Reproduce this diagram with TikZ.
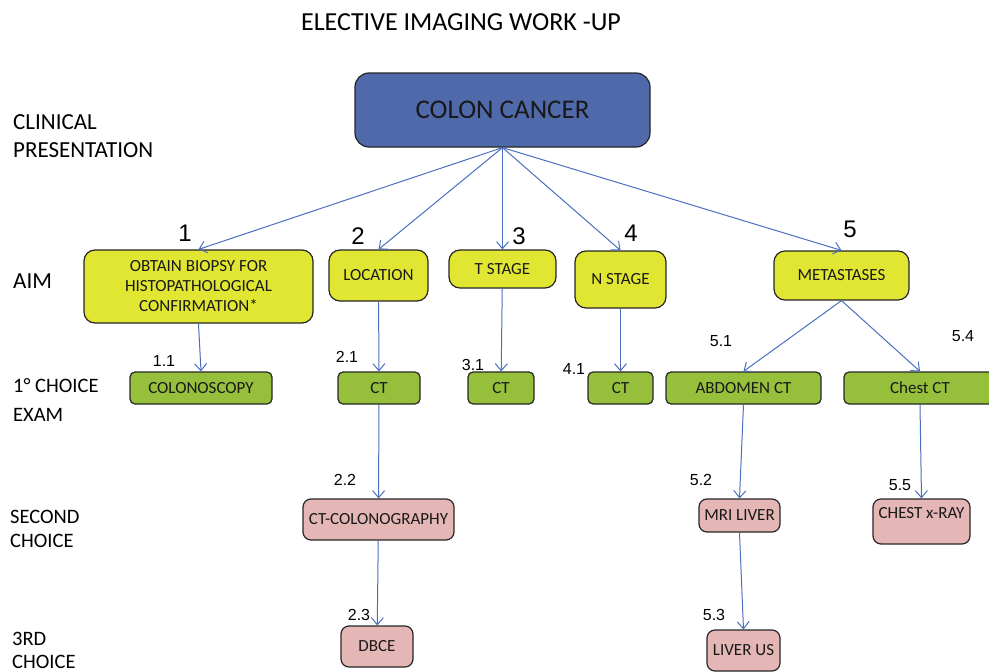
\documentclass[tikz,border=0pt]{standalone}
\usepackage{fontspec}
\setmainfont{Carlito}
\newfontfamily\arialfont{Liberation Sans}
\usetikzlibrary{arrows.meta, positioning}

\definecolor{cancerblue}{HTML}{5069AA}
\definecolor{aimyellow}{HTML}{E1E633}
\definecolor{examgreen}{HTML}{96C03C}
\definecolor{altpink}{HTML}{E4B7B6}
\definecolor{linkblue}{HTML}{4A6FBF}

\begin{document}
\begin{tikzpicture}[
    x=1pt, y=-1pt,
    box/.style={draw=black!85, line width=1.2pt, inner sep=2pt, align=center,
      text=black!90, font=\fontsize{17}{20}\selectfont},
    topbox/.style={box, fill=cancerblue, rounded corners=14pt, font=\fontsize{27}{30}\selectfont},
    aimbox/.style={box, fill=aimyellow, rounded corners=11pt},
    exambox/.style={box, fill=examgreen, rounded corners=5pt},
    altbox/.style={box, fill=altpink, rounded corners=8pt},
    rowlbl/.style={anchor=west, align=left, inner sep=0pt},
    numlbl/.style={font=\arialfont\fontsize{24}{26}\selectfont},
    sublbl/.style={font=\arialfont\fontsize{16}{18}\selectfont},
    link/.style={draw=linkblue, line width=1pt, -{Straight Barb[length=7pt,width=12pt]}}
  ]
  \clip (0,0) rectangle (989,672);

  % Title and row captions on the left
  \node (title) at (461,22) {\fontsize{26}{30}\selectfont ELECTIVE IMAGING WORK -UP};
  \node[rowlbl, font=\fontsize{23}{28}\selectfont] (rclin) at (13,136) {CLINICAL\\PRESENTATION};
  \node[rowlbl, font=\fontsize{23}{28}\selectfont] (raim) at (13,281) {AIM};
  \node[rowlbl, font=\fontsize{20.5}{29}\selectfont] (rfirst) at (13,400) {1° CHOICE\\EXAM};
  \node[rowlbl, font=\fontsize{20.5}{24}\selectfont] (rsecond) at (10,529) {SECOND\\CHOICE};
  \node[rowlbl, font=\fontsize{20.5}{23}\selectfont] (rthird) at (12,650) {3RD\\CHOICE};

  % Top box
  \node[topbox, minimum width=295, minimum height=74] (cancer) at (502.5,110) {COLON CANCER};

  % Aims
  \node[aimbox, minimum width=229, minimum height=73] (biopsy) at (198.5,286.5)
    {OBTAIN BIOPSY FOR\\HISTOPATHOLOGICAL\\CONFIRMATION*};
  \node[aimbox, minimum width=99, minimum height=51] (location) at (378.5,275.5) {LOCATION};
  \node[aimbox, minimum width=107, minimum height=38] (tstage) at (502.5,269) {T STAGE};
  \node[aimbox, minimum width=91, minimum height=57] (nstage) at (620.5,279.5) {N STAGE};
  \node[aimbox, minimum width=135, minimum height=49] (meta) at (841.5,275.5) {METASTASES};

  \node[numlbl] (n1) at (185,233) {1};
  \node[numlbl] (n2) at (358,236) {2};
  \node[numlbl] (n3) at (519,236) {3};
  \node[numlbl] (n4) at (631,233) {4};
  \node[numlbl] (n5) at (850,229) {5};

  % First choice exams
  \node[exambox, minimum width=142, minimum height=32] (colono) at (201,388) {COLONOSCOPY};
  \node[exambox, minimum width=82, minimum height=32] (ctloc) at (379,388) {CT};
  \node[exambox, minimum width=66, minimum height=32] (cttst) at (501,388) {CT};
  \node[exambox, minimum width=65, minimum height=32] (ctnst) at (620.5,388) {CT};
  \node[exambox, minimum width=155, minimum height=32] (abdct) at (743.5,388) {ABDOMEN CT};
  \node[exambox, minimum width=152, minimum height=32] (chestct) at (920,388) {Chest CT};

  % Second and third choice
  \node[altbox, minimum width=151, minimum height=41] (ctcolono) at (378.5,519.5) {CT-COLONOGRAPHY};
  \node[altbox, minimum width=81, minimum height=33] (mriliver) at (739.5,515.5) {MRI LIVER};
  \node[altbox, minimum width=97, inner ysep=7pt, text height=12pt, text depth=19pt] (chestxray)
    at (921.5,521.5) {CHEST x-RAY};
  \node[altbox, minimum width=72, minimum height=41] (dbce) at (377,646.5) {DBCE};
  \node[altbox, minimum width=73, minimum height=41] (liverus) at (743.5,650.5) {LIVER US};

  % Sub numbers
  \node[sublbl] (s11) at (164,361) {1.1};
  \node[sublbl] (s21) at (347,357) {2.1};
  \node[sublbl] (s31) at (473,365) {3.1};
  \node[sublbl] (s41) at (574,369) {4.1};
  \node[sublbl] (s51) at (721,341) {5.1};
  \node[sublbl] (s54) at (963,336) {5.4};
  \node[sublbl] (s22) at (345,480) {2.2};
  \node[sublbl] (s52) at (701,480) {5.2};
  \node[sublbl] (s55) at (900,485) {5.5};
  \node[sublbl] (s23) at (359,615) {2.3};
  \node[sublbl] (s53) at (714,615) {5.3};

  % Arrows
  \foreach \t in {biopsy, location, tstage, nstage, meta}
    \draw[link] (cancer.south) -- (\t.north);
  \draw[link] (biopsy.south) -- (colono.north);
  \draw[link] (location) -- (ctloc);
  \draw[link] (tstage) -- (cttst);
  \draw[link] (nstage) -- (ctnst);
  \draw[link] (meta.south) -- (abdct.north);
  \draw[link] (meta.south) -- (chestct.north);
  \draw[link] (ctloc) -- (ctcolono);
  \draw[link] (ctcolono) -- (dbce);
  \draw[link] (abdct.south) -- (mriliver.north);
  \draw[link] (mriliver.south) -- (liverus.north);
  \draw[link] (chestct.south) -- (chestxray.north);
\end{tikzpicture}
\end{document}
